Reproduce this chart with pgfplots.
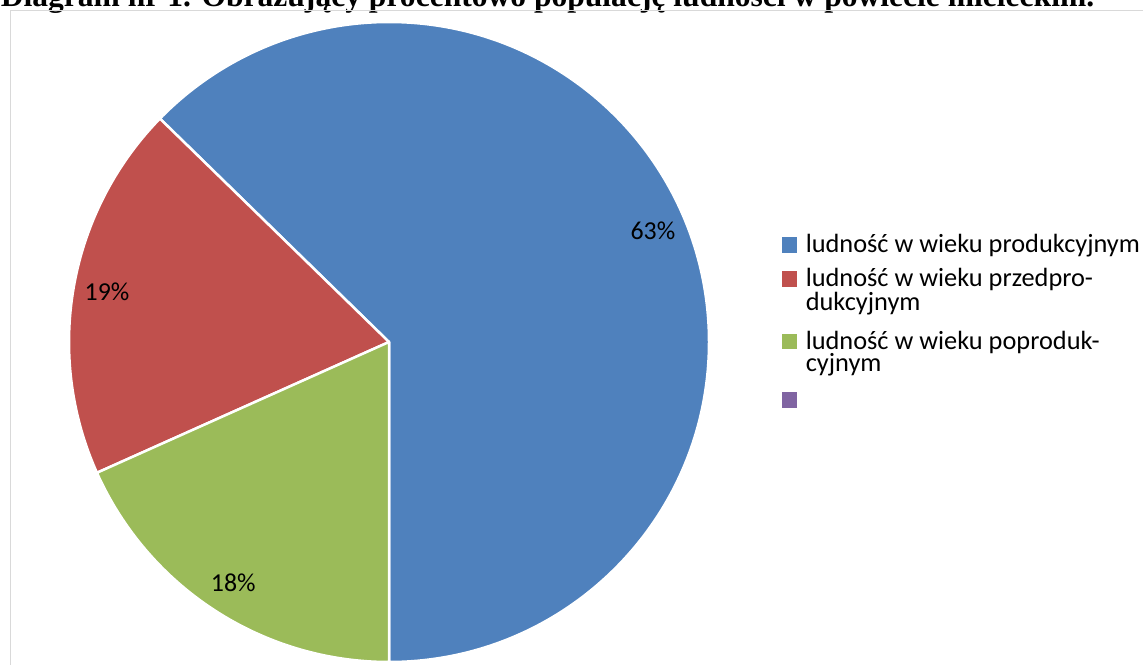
\documentclass[border=0pt]{standalone}
\usepackage{pgfplots}
\pgfplotsset{compat=1.18}
\usepackage{pgfplotstable}
\usepackage{graphicx}
\usepackage{fontspec}
\setmainfont{Carlito}
\newfontfamily\titlefont{Liberation Serif}

\definecolor{pblue}{HTML}{4F81BD}
\definecolor{pred}{HTML}{C0504D}
\definecolor{pgreen}{HTML}{9BBB59}
\definecolor{ppurple}{HTML}{8064A2}
\definecolor{ramka}{HTML}{D9D9D9}

% udzial procentowy grup wieku
\pgfplotstableread{
share
62.7
19.0
18.3
}\piedata

\newcommand\twoline[2]{\vtop{\baselineskip=13.5pt\hbox{#1}\hbox{#2}}}
\newcommand\slice[3]{%
  \filldraw[fill=#1, draw=white, line width=1.5pt, line join=round]
    (axis cs:0,0) -- ++(#2:192pt) arc[start angle=#2, end angle=#3, radius=192pt] -- cycle;}

\begin{document}
\begin{tikzpicture}
\pgfplotstablegetelem{0}{share}\of\piedata \let\va\pgfplotsretval
\pgfplotstablegetelem{1}{share}\of\piedata \let\vb\pgfplotsretval
\pgfplotstablegetelem{2}{share}\of\piedata \let\vc\pgfplotsretval
\pgfmathsetmacro\aA{-90}
\pgfmathsetmacro\aB{\aA+3.6*\va}
\pgfmathsetmacro\aC{\aB+3.6*\vb}
\pgfmathsetmacro\aD{\aC+3.6*\vc}
\pgfmathsetmacro\mA{(\aA+\aB)/2}
\pgfmathsetmacro\mB{(\aB+\aC)/2}
\pgfmathsetmacro\mC{(\aC+\aD)/2}
\pgfmathtruncatemacro\pA{round(\va)}
\pgfmathtruncatemacro\pB{round(\vb)}
\pgfmathtruncatemacro\pC{round(\vc)}
\useasboundingbox (0pt,0pt) rectangle (685.8pt,-399pt);
\clip (0pt,0pt) rectangle (685.8pt,-399pt);
% tytul (uciety u gory jak w oryginale)
\node[anchor=base west, inner sep=0pt] at (0.3pt,-3.6pt)
  {\resizebox{656pt}{!}{\titlefont\bfseries Diagram nr 1. Obrazujący procentowo populację ludności w powiecie mieleckim.}};
\draw[ramka, line width=0.8pt] (6.3pt,-420pt) -- (6.3pt,-6.3pt) -- (720pt,-6.3pt);
\begin{pgfinterruptboundingbox}
\begin{axis}[
    at={(233.4pt,-205.2pt)}, anchor=center,
    width=384pt, height=384pt, scale only axis,
    xmin=-1, xmax=1, ymin=-1, ymax=1,
    hide axis, clip=false,
    legend image code/.code={\fill[#1, draw=none] (0pt,0pt) rectangle (9.3pt,9.3pt);},
    legend style={
        at={(1.114,0.668)}, anchor=north west,
        draw=none, fill=none, inner sep=0pt, outer sep=0pt,
        row sep=9.4pt, column sep=5.0pt,
        font=\fontsize{15.8}{13.5}\selectfont,
        nodes={inner sep=0pt, outer sep=0pt, text depth=},
        cells={anchor=base west},
    },
]
\slice{pblue}{\aA}{\aB}
\slice{pred}{\aB}{\aC}
\slice{pgreen}{\aC}{\aD}
\node[font=\fontsize{15.5}{18}\selectfont] at (axis cs:{0.895*cos(\mA)},{0.895*sin(\mA)}) {\pA\%};
\node[font=\fontsize{15.5}{18}\selectfont] at (axis cs:{0.895*cos(\mB)},{0.895*sin(\mB)}) {\pB\%};
\node[font=\fontsize{15.5}{18}\selectfont] at (axis cs:{0.895*cos(\mC)},{0.895*sin(\mC)}) {\pC\%};
\addlegendimage{fill=pblue}
\addlegendentry{\raisebox{0pt}[\height][0pt]{ludność w wieku produkcyjnym}}
\addlegendimage{fill=pred}
\addlegendentry{\twoline{ludność w wieku przedpro-}{dukcyjnym}}
\addlegendimage{fill=pgreen}
\addlegendentry{\twoline{ludność w wieku poproduk-}{cyjnym}}
\addlegendimage{fill=ppurple}
\addlegendentry{\mbox{}}
\end{axis}
\end{pgfinterruptboundingbox}
\end{tikzpicture}
\end{document}
